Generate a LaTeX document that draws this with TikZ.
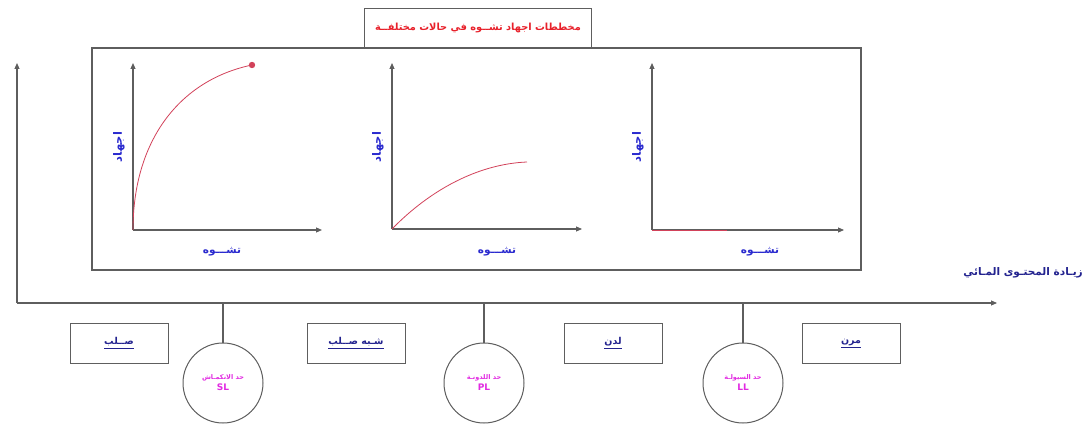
\documentclass[tikz,border=0pt]{standalone}
\usepackage{fontspec}
\usetikzlibrary{arrows.meta}
\TeXXeTstate=1
\newfontfamily\ar[Script=Arabic]{DejaVu Sans}
\definecolor{axgray}{HTML}{5E5E5E}
\definecolor{curvered}{HTML}{D2425A}
\definecolor{labblue}{HTML}{2A2ACF}
\definecolor{boxblue}{HTML}{23238F}
\definecolor{limmag}{HTML}{E22AE2}
\definecolor{titred}{HTML}{E8202A}
\tikzset{
  axis/.style={draw=axgray, line width=1.1pt, -{Triangle[length=6pt,width=5pt]}},
  frame/.style={draw=axgray, line width=1.2pt},
  curve/.style={draw=curvered, line width=0.8pt},
  ylab/.style={text=labblue, font=\ar\bfseries\fontsize{11.5}{12}\selectfont, rotate=90, inner sep=0pt},
  xlab/.style={text=labblue, font=\ar\bfseries\fontsize{10.5}{12}\selectfont, inner sep=0pt},
  statebox/.style={draw=axgray, line width=1pt, minimum width=98pt, minimum height=40pt, text=boxblue, font=\ar\bfseries\fontsize{9.5}{10}\selectfont},
  limit/.style={draw=axgray, line width=1pt, circle, minimum size=80pt, inner sep=0pt, text=limmag, font=\ar\bfseries\fontsize{6.5}{11}\selectfont, align=center},
  tick/.style={draw=axgray, line width=1.1pt}
}
\begin{document}
\begin{tikzpicture}[x=1pt,y=-1pt]
\useasboundingbox[fill=white] (0,0) rectangle (1090,425);

% frame and title
\node[frame, minimum width=769pt, minimum height=222pt, inner sep=0pt] (fr) at (476.5,159) {};
\node[frame, line width=1pt, fill=white, minimum width=227pt, minimum height=39pt, text=titred, font=\ar\bfseries\fontsize{9.8}{11}\selectfont] (title) at (478,28) {\beginR مخططات اجهاد تشــوه في حالات مختلفــة\endR};

% main axes
\coordinate (o) at (17,303);
\coordinate (ytop) at (17,63);
\coordinate (xend) at (997,303);
\draw[axis] (o) -- (ytop);
\draw[axis] (o) -- (xend);
\node[text=boxblue, font=\ar\bfseries\fontsize{10.5}{12}\selectfont, anchor=east, inner sep=0pt] (water) at (1083,273) {\beginR زيـادة المحتـوى المـائي\endR};

% graph 1
\coordinate (o1) at (133,230);
\coordinate (y1) at (133,63);
\coordinate (x1) at (322,230);
\coordinate (e1) at (252,65);
\draw[axis] (o1) -- (y1);
\draw[axis] (o1) -- (x1);
\draw[curve] (o1) .. controls (133,140) and (180,80) .. (e1);
\fill[curvered] (e1) circle (3.2pt);
\node[ylab] (yl1) at (119,147) {\beginR اجهاد\endR};
\node[xlab] (xl1) at (222,252) {\beginR تشـــوه\endR};

% graph 2
\coordinate (o2) at (392,229);
\coordinate (y2) at (392,63);
\coordinate (x2) at (582,229);
\coordinate (e2) at (527,162);
\draw[axis] (o2) -- (y2);
\draw[axis] (o2) -- (x2);
\draw[curve] (o2) .. controls (430,190) and (478,164) .. (e2);
\node[ylab] (yl2) at (378,147) {\beginR اجهاد\endR};
\node[xlab] (xl2) at (497,252) {\beginR تشـــوه\endR};

% graph 3
\coordinate (o3) at (652,230);
\coordinate (y3) at (652,63);
\coordinate (x3) at (844,230);
\coordinate (e3) at (727,230);
\draw[axis] (o3) -- (y3);
\draw[axis] (o3) -- (x3);
\draw[curve] (o3) -- (e3);
\node[ylab] (yl3) at (638,147) {\beginR اجهاد\endR};
\node[xlab] (xl3) at (760,252) {\beginR تشـــوه\endR};

% states
\node[statebox] (s1) at (119,343) {\underline{\beginR صــلب\endR}};
\node[statebox] (s2) at (356,343) {\underline{\beginR شـبه صــلب\endR}};
\node[statebox] (s3) at (613,343) {\underline{\beginR لدن\endR}};
\node[statebox] (s4) at (851,343) {\underline{\beginR مرن\endR}};

% limits
\node[limit] (c1) at (223,383) {\beginR حد الانكمـاش\endR\\{\fontsize{9}{10}\selectfont SL}};
\node[limit] (c2) at (484,383) {\beginR حد اللدونـة\endR\\{\fontsize{9}{10}\selectfont PL}};
\node[limit] (c3) at (743,383) {\beginR حد السيولـة\endR\\{\fontsize{9}{10}\selectfont LL}};
\draw[tick] (c1.north) -- (c1.north |- o);
\draw[tick] (c2.north) -- (c2.north |- o);
\draw[tick] (c3.north) -- (c3.north |- o);
\end{tikzpicture}
\end{document}
